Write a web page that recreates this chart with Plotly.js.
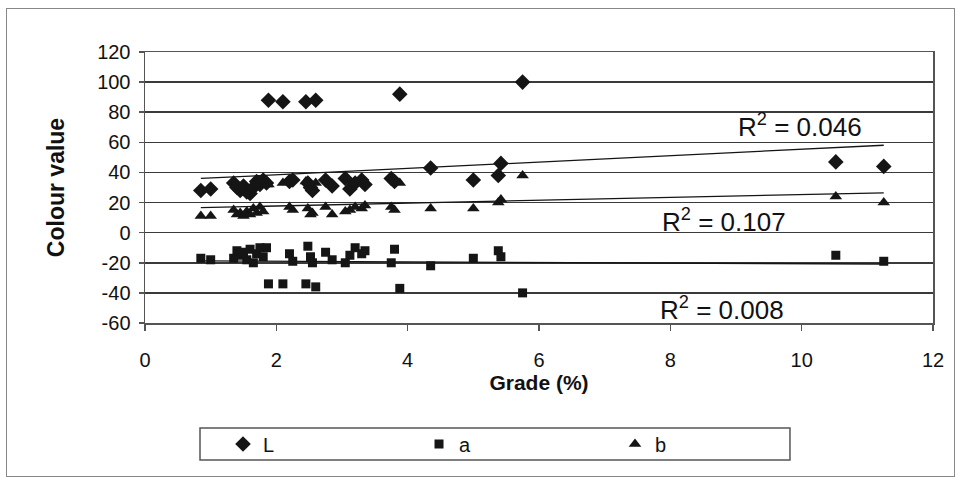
<!DOCTYPE html>
<html>
<head>
<meta charset="utf-8">
<script src="https://cdn.plot.ly/plotly-3.0.1.min.js"></script>
<style>
  html, body { margin: 0; padding: 0; background: #fff; }
  #chart { width: 964px; height: 483px; }
  #frame {
    position: absolute; left: 6px; top: 8px; width: 949px; height: 469px;
    border: 1.5px solid #888; pointer-events: none; box-sizing: border-box;
  }
</style>
</head>
<body>
<div id="chart"></div>
<div id="frame"></div>
<script>
// Sample grade (%) and the CIE L*, a*, b* colour values measured for each sample
const grade = [0.85, 1.0, 1.35, 1.4, 1.45, 1.5, 1.55, 1.6, 1.65, 1.7, 1.75, 1.8, 1.85, 1.88,
               2.1, 2.2, 2.25, 2.45, 2.48, 2.52, 2.55, 2.6, 2.75, 2.85, 3.05, 3.12, 3.2, 3.3,
               3.35, 3.75, 3.8, 3.88, 4.35, 5.0, 5.38, 5.42, 5.75, 10.52, 11.25];
const valL  = [28, 29, 33, 30, 28, 31, 27, 26, 30, 34, 32, 35, 33, 88,
               87, 34, 35, 87, 33, 30, 28, 88, 35, 31, 36, 29, 33, 35,
               32, 36, 34, 92, 43, 35, 38, 46, 100, 47, 44];
const valA  = [-17, -18, -17, -12, -15, -13, -18, -11, -20, -14, -10, -16, -10, -34,
               -34, -14, -19, -34, -9, -16, -20, -36, -13, -18, -20, -15, -10, -14,
               -12, -20, -11, -37, -22, -17, -12, -16, -40, -15, -19];
const valB  = [11, 11, 15, 12, 13, 11, 14, 12, 16, 13, 17, 14, 32, 32,
               33, 17, 15, 34, 16, 12, 13, 33, 17, 12, 14, 15, 17, 16,
               18, 17, 15, 33, 16, 16, 20, 22, 38, 24, 20];

// Linear trend lines: [intercept, slope] and their R² labels
const trendL = [34.2, 2.12];
const trendA = [-18.6, -0.2];
const trendB = [15.8, 0.95];
const r2Labels = ['0.046', '0.107', '0.008'];
const r2Pos = [[9.97, 71.4], [8.82, 8.3], [8.79, -50.2]];

const seriesNames = ['L', 'a', 'b'];
const xTicks = [0, 2, 4, 6, 8, 10, 12];
const yTicks = [-60, -40, -20, 0, 20, 40, 60, 80, 100, 120];

const ink = '#151515';
const xMin = Math.min(...grade), xMax = Math.max(...grade);

function trendTrace(coef) {
  return {
    x: [xMin, xMax],
    y: [coef[0] + coef[1] * xMin, coef[0] + coef[1] * xMax],
    mode: 'lines', type: 'scatter', showlegend: false, hoverinfo: 'skip',
    line: { color: ink, width: 1.3 }
  };
}

const traces = [
  trendTrace(trendL), trendTrace(trendA), trendTrace(trendB),
  { x: grade, y: valL, name: seriesNames[0], mode: 'markers', type: 'scatter',
    marker: { symbol: 'diamond', size: 12, color: ink } },
  { x: grade, y: valA, name: seriesNames[1], mode: 'markers', type: 'scatter',
    marker: { symbol: 'square', size: 9, color: ink } },
  { x: grade, y: valB, name: seriesNames[2], mode: 'markers', type: 'scatter',
    marker: { symbol: 'triangle-up', size: 11, color: ink } }
];

const font = 'Liberation Sans, Arial, sans-serif';

// Legend box is drawn as a paper-referenced rectangle below the plot
const legendBox = { x0: 0.0698, x1: 0.8185, y0: -0.5055, y1: -0.3875 };

const layout = {
  width: 964, height: 483,
  margin: { l: 145, r: 31, t: 52, b: 160 },
  paper_bgcolor: '#fff', plot_bgcolor: '#fff',
  font: { family: font, size: 20, color: '#111' },
  xaxis: {
    range: [0, 12], tickvals: xTicks, ticktext: xTicks.map(String),
    showgrid: false, zeroline: false,
    showline: true, linecolor: '#555', linewidth: 1.5, mirror: true,
    ticks: 'outside', ticklen: 6, tickcolor: '#555', tickwidth: 1.5,
    ticklabelstandoff: 12, tickfont: { size: 20 },
    title: { text: '<b>Grade (%)</b>', font: { size: 21, family: font }, standoff: 6 }
  },
  yaxis: {
    range: [-60, 120], tickvals: yTicks, ticktext: yTicks.map(String),
    showgrid: true, gridcolor: '#3a3a3a', gridwidth: 1.5, zeroline: false,
    showline: true, linecolor: '#555', linewidth: 1.5, mirror: true,
    ticks: 'outside', ticklen: 5, tickcolor: '#555', tickwidth: 1.5,
    ticklabelstandoff: 4, tickfont: { size: 20 },
    title: { text: '<b>Colour value</b>', font: { size: 23, family: font }, standoff: 26 }
  },
  legend: {
    orientation: 'h', x: 0.099, xanchor: 'left', y: -0.4465, yanchor: 'middle',
    borderwidth: 0, bgcolor: 'rgba(0,0,0,0)',
    entrywidth: 151, entrywidthmode: 'pixels',
    font: { size: 20, family: font }
  },
  shapes: [{
    type: 'rect', xref: 'paper', yref: 'paper',
    x0: legendBox.x0, x1: legendBox.x1, y0: legendBox.y0, y1: legendBox.y1,
    line: { color: '#555', width: 1.5 }, fillcolor: 'rgba(0,0,0,0)'
  }],
  annotations: r2Labels.map((v, i) => ({
    x: r2Pos[i][0], y: r2Pos[i][1], xref: 'x', yref: 'y',
    text: 'R<sup>2</sup> = ' + v, showarrow: false,
    font: { size: 26, family: font, color: '#111' }
  }))
};

Plotly.newPlot('chart', traces, layout, { staticPlot: true });
</script>
</body>
</html>
